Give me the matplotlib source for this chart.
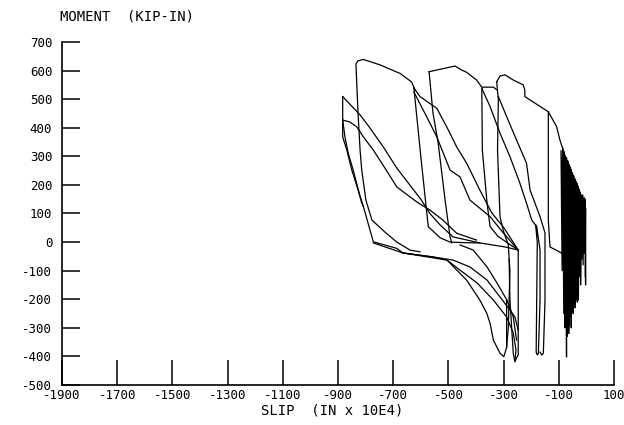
import matplotlib
matplotlib.use("Agg")
import matplotlib.pyplot as plt

# slip (in x 10E4), moment (kip-in)
peak1_top = [(-621, 532), (-633, 560), (-675, 590), (-748, 620), (-808, 639), (-828, 634),
             (-835, 623), (-828, 462), (-820, 322), (-814, 252), (-799, 147), (-777, 77),
             (-730, 35), (-687, 0), (-639, -28), (-603, -34)]
peak1_drop = [(-625, 539), (-600, 300), (-573, 54), (-530, 15), (-494, 0), (-440, -2),
              (-386, -3), (-295, -17), (-247, -28)]
reload_a = [(-247, -28), (-301, 53), (-343, 102), (-367, 147), (-386, 182), (-434, 276),
            (-470, 333), (-506, 403), (-542, 468), (-603, 509), (-625, 539)]
reload_b = [(-247, -28), (-301, 32), (-349, 89), (-422, 147), (-458, 228), (-494, 252),
            (-542, 368), (-579, 439), (-625, 525)]

peak2_left = [(-570, 596), (-556, 452), (-537, 346), (-512, 147), (-494, 18), (-488, -3)]
peak2_top = [(-570, 596), (-476, 616), (-452, 602), (-434, 594), (-398, 567), (-379, 542),
             (-337, 542), (-324, 532)]
peak2_drop = [(-379, 538), (-377, 322), (-360, 137), (-349, 54), (-320, 20), (-290, 0),
              (-247, -28)]
peak2_right = [(-379, 538), (-349, 474), (-313, 381), (-277, 299), (-241, 206), (-217, 136),
               (-198, 77), (-180, 54), (-168, -28), (-168, -203), (-174, -389), (-178, -395),
               (-182, -385), (-180, -200), (-178, 0), (-184, 60)]

peak3_top = [(-325, 561), (-313, 581), (-295, 585), (-265, 567), (-229, 550), (-223, 532),
             (-223, 509), (-138, 456), (-108, 404), (-96, 357), (-84, 322), (-72, 287),
             (-60, 264), (-49, 229), (-36, 206), (-23, 159), (-11, 112), (-5, 80)]
peak3_left = [(-325, 561), (-319, 497), (-322, 322), (-313, 89), (-301, 40), (-283, -10),
              (-277, -100), (-283, -300), (-289, -368)]
peak3_diag = [(-319, 509), (-289, 439), (-253, 357), (-217, 276), (-204, 182), (-168, 89),
              (-150, 32), (-150, -203), (-156, -389), (-162, -395), (-168, -385)]
peak3_drop = [(-138, 456), (-138, 77), (-132, -17), (-90, -38), (-78, -52)]

vert_250 = [(-247, -28), (-247, -395), (-253, -405), (-259, -419), (-265, -389),
            (-277, -203), (-280, -60)]

left_edge = [(-883, 509), (-883, 368), (-868, 322), (-850, 252), (-808, 124), (-772, 1),
             (-687, -22), (-665, -38), (-556, -52), (-505, -63), (-434, -133), (-386, -203),
             (-361, -249), (-349, -284), (-337, -343), (-313, -389), (-299, -401),
             (-289, -368), (-289, -203)]
left_edge2 = [(-883, 427), (-875, 369), (-863, 311), (-845, 252), (-815, 140), (-808, 124)]
diag_510 = [(-883, 509), (-820, 445), (-784, 399), (-736, 333), (-687, 259), (-640, 200),
            (-600, 150), (-567, 100), (-530, 60), (-483, 18), (-386, -3)]
diag_430 = [(-883, 427), (-857, 420), (-832, 403), (-808, 368), (-772, 322), (-730, 259),
            (-687, 193), (-614, 140), (-567, 112), (-520, 77), (-470, 31), (-398, 7)]

neg_a = [(-665, -38), (-505, -63), (-458, -98), (-396, -143), (-337, -203), (-289, -262),
         (-265, -318), (-255, -378), (-259, -413)]
neg_b = [(-772, -3), (-665, -38), (-556, -52), (-483, -63), (-422, -87), (-360, -133),
         (-313, -192), (-277, -238), (-259, -262), (-247, -308)]
neg_c = [(-458, -10), (-410, -28), (-360, -87), (-324, -143), (-288, -203), (-265, -262),
         (-253, -343)]

# small-slip cycles near zero, packed tight
cluster = [(-78, -52), (-92, 320), (-88, -100), (-86, 330), (-82, -250), (-80, 315),
           (-78, -300), (-76, 300), (-72, -402), (-72, 295), (-70, -330), (-68, 285),
           (-68, -300), (-66, 280), (-64, -320), (-62, 270), (-62, -290), (-60, 262),
           (-58, -260), (-56, 255), (-55, -300), (-53, 245), (-52, -230), (-50, 240),
           (-48, -250), (-46, 232), (-45, -220), (-42, 222), (-41, -230), (-38, 212),
           (-37, -200), (-34, 205), (-33, -210), (-30, 195), (-29, -203), (-26, 185),
           (-25, -120), (-22, 175), (-21, -150), (-18, 165), (-17, -60), (-13, 165),
           (-12, -80), (-8, 155), (-7, -40), (-4, 150), (-3, -150), (-3, 120), (-4, -120)]

branches = [peak1_top, peak1_drop, reload_a, reload_b, peak2_left, peak2_top, peak2_drop,
            peak2_right, peak3_top, peak3_left, peak3_diag, peak3_drop, vert_250,
            left_edge, left_edge2, diag_510, diag_430, neg_a, neg_b, neg_c, cluster]

xticks = list(range(-1900, 101, 200))
yticks = list(range(-500, 701, 100))

plt.rcParams['font.family'] = 'DejaVu Sans Mono'

fig = plt.figure(figsize=(6.24, 4.25), dpi=100)
ax = fig.add_axes([62/624, 1-385/425, 552/624, 343/425])

for b in branches:
    xs = [p[0] for p in b]
    ys = [p[1] for p in b]
    ax.plot(xs, ys, color='black', lw=0.9)

ax.set_xlim(-1900, 100)
ax.set_ylim(-500, 700)
ax.set_xticks(xticks)
ax.set_yticks(yticks)
ax.set_xticklabels([str(t) for t in xticks])
ax.set_yticklabels([str(t) for t in yticks])
ax.spines['top'].set_visible(False)
ax.spines['right'].set_visible(False)
ax.spines['left'].set_linewidth(1.2)
ax.spines['bottom'].set_linewidth(1.2)
ax.tick_params(axis='y', direction='in', length=13, width=1.1, pad=7, labelsize=9)
ax.tick_params(axis='x', direction='in', length=18, width=1.1, pad=3, labelsize=9)

fig.text(60/624, 1-17/425, 'MOMENT  (KIP-IN)', fontsize=10, ha='left', va='center')
fig.text(332/624, 1-411/425, 'SLIP  (IN x 10E4)', fontsize=10, ha='center', va='center')

fig.savefig('out.png', dpi=100)
